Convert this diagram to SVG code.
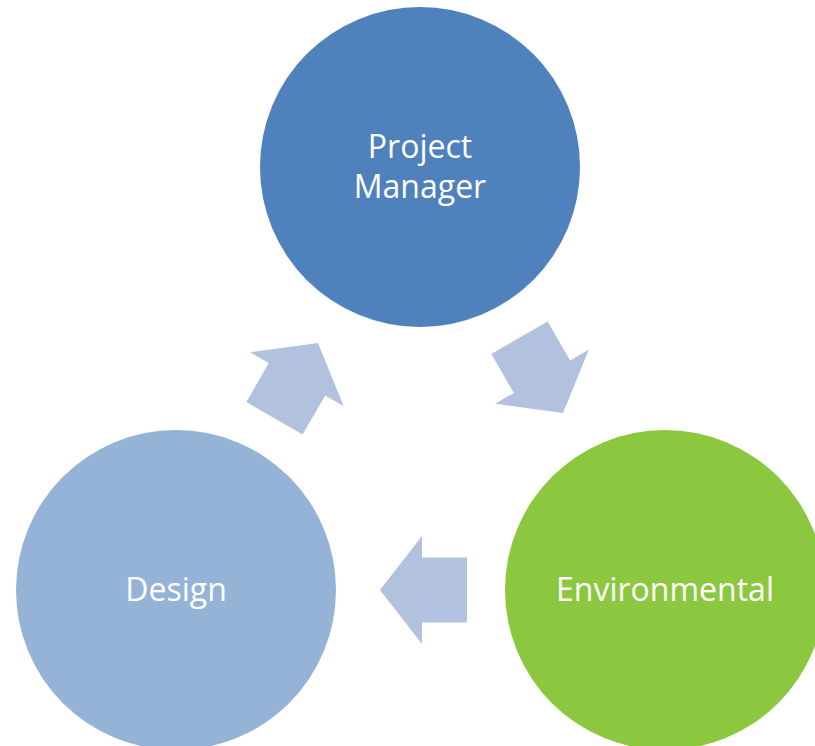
<svg xmlns="http://www.w3.org/2000/svg" width="815" height="746" viewBox="0 0 815 746">
<defs>
<style>
.lbl{font-family:"Open Sans","Liberation Sans",sans-serif;font-size:32px;fill:#ffffff;text-anchor:middle}
.arr{fill:#B1C1DE}
</style>
<polygon id="arrow" points="0,0 -42,-54 -42,-32.5 -87,-32.5 -87,32.5 -42,32.5 -42,54"/>
</defs>
<rect width="815" height="746" fill="#ffffff"/>
<g id="connectors">
<use href="#arrow" class="arr" transform="translate(318,343) rotate(-60)"/>
<use href="#arrow" class="arr" transform="translate(563,413) rotate(60)"/>
<use href="#arrow" class="arr" transform="translate(380,590) rotate(180)"/>
</g>
<g id="project-manager">
<circle cx="420" cy="167" r="160" fill="#4F81BD"/>
<text class="lbl" x="420" y="158">Project</text>
<text class="lbl" x="420" y="198">Manager</text>
</g>
<g id="design">
<circle cx="176" cy="590" r="160" fill="#95B3D7"/>
<text class="lbl" x="176" y="601">Design</text>
</g>
<g id="environmental">
<circle cx="665" cy="590" r="160" fill="#8CC83F"/>
<text class="lbl" x="665" y="601">Environmental</text>
</g>
</svg>
